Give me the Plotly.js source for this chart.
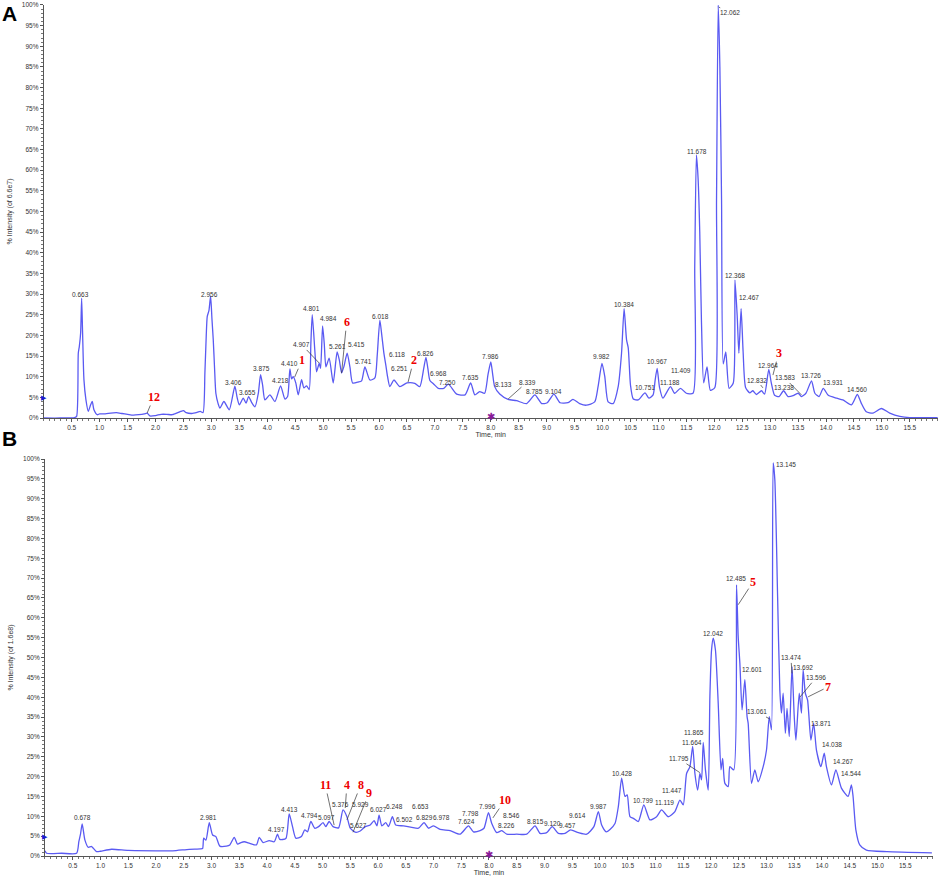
<!DOCTYPE html>
<html>
<head>
<meta charset="utf-8">
<script src="https://cdn.plot.ly/plotly-3.0.1.min.js"></script>
<style>html,body{margin:0;padding:0;background:#fff}#chart{width:941px;height:876px}</style>
</head>
<body>
<div id="chart"></div>
<script>
// ---------- Panel A data (time, min / % intensity of 6.6e7) ----------
const timeA = [
0,0.3,0.55,0.588,0.618,0.636,0.66,0.678,0.695,0.719,
0.755,0.797,0.839,0.868,0.898,0.958,1.0,1.1,1.2,1.3,
1.4,1.5,1.6,1.7,1.8,1.85,1.9,2.0,2.1,2.2,
2.3,2.4,2.45,2.5,2.55,2.65,2.75,2.8,2.85,2.884,
2.908,2.926,2.956,2.986,3.01,3.033,3.057,3.08,3.12,3.153,
3.224,3.32,3.42,3.46,3.50,3.57,3.62,3.666,3.72,3.78,
3.84,3.88,3.916,3.958,4.047,4.137,4.238,4.316,4.364,4.405,
4.435,4.464,4.51,4.554,4.614,4.655,4.703,4.75,4.78,4.805,
4.853,4.883,4.93,4.954,4.99,5.02,5.05,5.108,5.18,5.25,
5.29,5.33,5.37,5.43,5.48,5.527,5.627,5.688,5.747,5.837,
5.926,5.967,6.015,6.05,6.087,6.123,6.153,6.194,6.266,6.373,
6.50,6.64,6.73,6.80,6.84,6.874,6.91,6.98,7.06,7.16,
7.24,7.39,7.54,7.64,7.715,7.80,7.89,7.95,8.0,8.03,
8.07,8.16,8.31,8.46,8.64,8.79,8.91,9.01,9.13,9.24,
9.38,9.47,9.59,9.71,9.86,9.92,9.99,10.04,10.1,10.19,
10.28,10.34,10.386,10.43,10.46,10.50,10.55,10.64,10.76,10.83,
10.905,10.94,10.977,11.02,11.08,11.216,11.29,11.395,11.50,11.62,
11.65,11.68,11.71,11.74,11.77,11.81,11.87,11.93,12.01,12.04,
12.07,12.10,12.13,12.16,12.206,12.265,12.34,12.37,12.41,12.44,
12.48,12.515,12.56,12.635,12.69,12.755,12.845,12.90,12.975,13.02,
13.08,13.16,13.24,13.32,13.41,13.50,13.56,13.64,13.74,13.80,
13.875,13.95,14.04,14.19,14.30,14.455,14.56,14.63,14.72,14.84,
14.99,15.14,15.32,15.5,16.0
];
const intensityA = [
0,0,0.1,0.4,15.7,17.3,20.6,29,20.6,9.3,
4.4,1.6,3.2,4.0,2.0,0.8,1.0,1.0,1.2,1.3,
1.1,0.9,0.7,0.8,1.0,1.2,0.5,0.6,0.9,0.9,
0.8,1.3,1.6,1.8,1.3,1.1,1.4,1.6,1.3,11,
20,24.6,26,29.5,24,19,12,6,3.5,2.4,
4,2,7.7,5,3.2,4.8,3.6,5.2,3.8,2.7,
6,10.5,8,4.4,5.6,4.0,7.8,4.6,5.2,11.9,
9.5,10,8.5,5.6,9.3,7.3,7.8,6.9,18,25,
16,11.2,13.3,12,22.3,18,12.4,14.5,8.5,16,
14,10.9,12.4,15.7,12.3,8.5,8.7,9,12.4,9.2,
9.7,15,23.7,20,15.7,12.7,10,7.6,9.2,7.6,
8.5,8.4,7.6,12,14.7,12,9.1,8.2,7.2,7.2,
8.2,5.8,5.6,8.5,5.6,6.4,6.0,10.5,13.6,11,
7.6,5.8,4.5,4.2,3.5,5.6,3.5,3.7,5.8,3.7,
3.7,4.5,3.5,3.1,3.9,7.6,13.2,10.1,3.9,3.5,
7.6,15.7,26.5,18.9,17,8,4.6,4.4,6.1,4.8,
5.6,9,12,7.4,4.8,7.6,6,7.2,6,6,
36.6,63.7,58,45,23.6,8.5,12.4,6.7,7.4,52.8,
100,85,52.8,13.1,16,7.2,8.5,33.4,24.7,15.7,
26.5,16.3,7.4,6.1,6.6,5.7,6.6,5.8,11.8,8.5,
5.5,5.2,6.6,5.2,5.4,6.0,5.2,6.0,9.0,6.0,
5.2,7.2,5.5,4.8,4.4,3.2,5.7,3.6,1.5,1.2,
2.3,1.2,0.4,0.1,0.1
];

// ---------- Panel B data (time, min / % intensity of 1.6e8) ----------
const timeB = [
0,0.03,0.3,0.57,0.61,0.64,0.67,0.72,0.78,0.84,
0.93,1.0,1.2,1.5,2.0,2.3,2.6,2.8,2.84,2.86,
2.90,2.96,3.02,3.08,3.15,3.27,3.33,3.41,3.47,3.53,
3.59,3.69,3.81,3.86,3.93,4.04,4.13,4.19,4.23,4.34,
4.40,4.46,4.52,4.62,4.68,4.73,4.79,4.86,4.93,5.01,
5.06,5.12,5.19,5.29,5.37,5.44,5.50,5.59,5.68,5.77,
5.86,5.93,5.98,6.02,6.07,6.14,6.19,6.26,6.32,6.46,
6.61,6.73,6.83,6.91,7.00,7.12,7.30,7.48,7.63,7.72,
7.84,7.91,7.99,8.05,8.14,8.23,8.32,8.50,8.68,8.83,
8.92,9.04,9.14,9.25,9.37,9.47,9.61,9.76,9.89,9.97,
10.03,10.11,10.18,10.27,10.33,10.39,10.45,10.49,10.54,10.60,
10.69,10.79,10.90,11.02,11.11,11.23,11.35,11.44,11.50,11.56,
11.62,11.67,11.71,11.76,11.80,11.83,11.86,11.90,11.95,11.98,
12.01,12.04,12.08,12.13,12.18,12.21,12.25,12.31,12.34,12.41,
12.46,12.49,12.52,12.56,12.61,12.65,12.67,12.73,12.79,12.85,
12.94,13.00,13.05,13.09,13.12,13.15,13.20,13.24,13.27,13.30,
13.34,13.37,13.41,13.46,13.50,13.53,13.59,13.63,13.66,13.70,
13.74,13.80,13.85,13.90,13.98,14.04,14.08,14.17,14.25,14.35,
14.47,14.53,14.56,14.61,14.68,14.80,15.17,15.98
];
const intensityB = [
1.3,0.7,0.7,0.7,3.6,5.5,8.1,4,2.2,2.4,
1.1,1.2,1.7,1.4,1.3,1.3,1.7,1.8,1.9,4.5,
4.0,8.4,5.3,4.9,2.5,2.5,2.8,4.7,3.0,3.4,
3.6,3.2,2.8,4.7,3.4,3.9,3.6,5.5,4.2,4.4,
10.6,7.4,4.5,4.9,6.6,6.1,8.7,7.0,7.4,8.4,
7.4,8.7,7.4,7.1,11.6,9.9,7.0,6.0,6.3,7.4,
7.8,8.9,7.6,10.3,7.6,8.4,7.4,9.9,7.8,7.6,
7.2,7.0,8.4,7.0,7.6,6.7,6.4,5.5,7.6,6.1,
6.4,7.0,10.9,8.2,5.9,6.4,5.5,5.5,5.5,7.6,
5.7,5.9,7.4,5.7,5.7,6.6,5.9,5.5,7.4,11.2,
7.8,6.1,6.7,8.2,12.4,19.6,15,15.4,9.9,9.5,
8.7,12.9,9.1,9.9,11.6,9.9,11.2,14.1,12.9,20.8,
22.5,27.6,20.8,16.6,20.8,19.2,28.6,21.7,16.6,40.2,
51.9,54.9,51.9,38.5,21.7,24.6,18.3,17.5,22.5,21.7,
68.3,55.3,48.6,36.8,44.4,35.1,33.4,18.3,21.7,18.7,
22.5,26.7,35.1,31.8,99,94.8,65.4,41.8,36,41,
30.9,37.2,30.1,47.7,35.1,29.2,41,36,46.9,41,
39.3,29.2,33.4,26.7,22.5,25.9,22.5,17.9,21.7,17.1,
15,17.9,15,6.6,2.8,1.5,1.1,0.8
];

// ---------- Peak labels, panel A (text, label position, optional leader target) ----------
const labelTextA = ["0.663","2.956","3.406","3.655","3.875","4.218","4.410","4.801","4.907","4.984",
  "5.261","5.415","5.741","6.018","6.118","6.251","6.826","6.968","7.250","7.635",
  "7.986","8.133","8.339","8.785","9.104","9.982","10.384","10.751","10.967","11.188",
  "11.409","11.678","12.062","12.368","12.467","12.832","12.964","13.238","13.583","13.726",
  "13.931","14.560"];
const labelTA = [0.666,2.97,3.40,3.64,3.89,4.23,4.39,4.80,4.62,5.10,
  5.25,5.60,5.73,6.02,6.32,6.36,6.84,7.07,7.23,7.64,
  8.0,8.23,8.65,8.79,9.13,9.99,10.38,10.76,10.97,11.2,
  11.40,11.69,12.28,12.37,12.62,12.76,12.96,13.24,13.26,13.73,
  14.12,14.55];
const labelYA = [29.8,30.0,8.7,6.3,11.9,9.0,13.1,26.4,17.7,24.2,
  17.4,17.7,13.6,24.7,15.3,11.9,15.7,10.7,8.5,9.9,
  15.0,8.2,8.7,6.5,6.5,15.0,27.6,7.5,13.6,8.7,
  11.4,64.6,98.1,34.6,29.1,9.2,12.8,7.5,9.7,10.2,
  8.7,7.0];
const leadTA = [null,null,null,null,null,null,null,null,4.93,null,
  null,null,null,null,null,null,null,null,null,null,
  null,null,8.31,null,null,null,null,null,null,null,
  null,null,12.08,null,null,12.87,null,null,13.56,null,
  null,null];
const leadYA = [null,null,null,null,null,null,null,null,13.3,null,
  null,null,null,null,null,null,null,null,null,null,
  null,null,4.6,null,null,null,null,null,null,null,
  null,null,99.5,null,null,7.3,null,null,5.6,null,
  null,null];
// identified compounds (red numbers), panel A
const compTextA = ["12","1","6","2","3"];
const compTA = [1.97,4.62,5.42,6.62,13.15];
const compYA = [5.1,14.0,23.2,14.0,15.7];
const compLeadTA = [1.85,4.49,5.33,6.52,13.05];
const compLeadYA = [1.2,9.9,10.9,8.7,10.4];

// ---------- Peak labels, panel B ----------
const labelTextB = ["0.678","2.981","4.197","4.413","4.794","5.097","5.376","5.929","5.627","6.027",
  "6.248","6.502","6.653","6.829","6.978","7.798","7.624","7.996","8.226","8.546",
  "8.815","9.120","9.457","9.614","9.987","10.428","10.799","11.119","11.447","11.795",
  "11.664","11.865","12.042","12.485","12.601","13.061","13.145","13.474","13.692","13.596",
  "13.871","14.038","14.267","14.544"];
const labelTB = [0.67,2.95,4.18,4.40,4.76,5.08,5.32,5.68,5.64,6.01,
  6.30,6.47,6.76,6.83,7.15,7.66,7.60,7.98,8.31,8.41,
  8.83,9.14,9.41,9.60,9.98,10.40,10.77,11.17,11.30,11.42,
  11.66,11.69,12.04,12.45,12.74,12.83,13.35,13.44,13.66,13.89,
  13.98,14.18,14.38,14.52];
const labelYB = [9.6,9.8,6.8,11.8,10.1,9.8,12.9,12.9,7.6,11.8,
  12.6,9.1,12.4,9.6,9.6,10.8,8.6,12.4,7.6,10.3,
  8.8,8.3,7.6,10.3,12.4,20.9,14.1,13.6,16.6,24.5,
  28.7,31.0,56.0,69.8,46.9,36.3,98.6,49.9,47.6,44.9,
  33.5,28.2,23.7,20.7];
const leadTB = [null,null,null,null,null,null,null,null,null,null,
  null,null,null,null,null,null,null,null,null,null,
  null,null,null,null,null,null,null,null,null,11.80,
  null,null,null,null,null,13.06,null,13.46,null,13.60,
  null,null,null,null];
const leadYB = [null,null,null,null,null,null,null,null,null,null,
  null,null,null,null,null,null,null,null,null,null,
  null,null,null,null,null,null,null,null,null,21.0,
  null,null,null,null,null,34.5,null,46.0,null,40.0,
  null,null,null,null];
const compTextB = ["11","4","8","9","10","5","7"];
const compTB = [5.05,5.44,5.69,5.84,8.29,12.76,14.11];
const compYB = [17.9,17.9,17.9,15.9,14.1,69.1,42.6];
const compLeadTB = [5.21,5.41,5.44,5.55,8.07,12.49,13.75];
const compLeadYB = [7.8,12.1,9.1,6.0,9.6,63.3,40.1];

const yTitleA = "% Intensity (of 6.6e7)";
const yTitleB = "% Intensity (of 1.6e8)";

// ---------- Build ----------
const lineColor = "#5a5af2";
const small = {family: "Liberation Sans, Arial, sans-serif", size: 6.5, color: "#333"};
const traces = [
  {x: timeA, y: intensityA, xaxis: "x", yaxis: "y", type: "scatter", mode: "lines",
   line: {color: lineColor, width: 1.3, shape: "spline", smoothing: 0.6}, hoverinfo: "skip"},
  {x: timeB, y: intensityB, xaxis: "x2", yaxis: "y2", type: "scatter", mode: "lines",
   line: {color: lineColor, width: 1.3, shape: "spline", smoothing: 0.6}, hoverinfo: "skip"}
];

const annotations = [];
function addLabels(texts, ts, ys, lts, lys, xr, yr, font) {
  texts.forEach((t, i) => {
    if (lts && lts[i] != null) {
      annotations.push({text: t, x: lts[i], y: lys[i], ax: ts[i], ay: ys[i], xref: xr, yref: yr,
        axref: xr, ayref: yr, showarrow: true, arrowhead: 0, arrowwidth: 0.7, arrowcolor: "#333",
        standoff: 0, startstandoff: 0, font: font});
    } else {
      annotations.push({text: t, x: ts[i], y: ys[i], xref: xr, yref: yr, showarrow: false, font: font});
    }
  });
}
const redFont = {family: "Liberation Serif, Times New Roman, serif", size: 12, color: "#ee0000", weight: "bold"};
addLabels(labelTextA, labelTA, labelYA, leadTA, leadYA, "x", "y", small);
addLabels(compTextA, compTA, compYA, compLeadTA, compLeadYA, "x", "y", redFont);
addLabels(labelTextB, labelTB, labelYB, leadTB, leadYB, "x2", "y2", small);
addLabels(compTextB, compTB, compYB, compLeadTB, compLeadYB, "x2", "y2", redFont);

// panel letters, y titles, markers
annotations.push({text: "<b>A</b>", xref: "paper", yref: "paper", x: 0.0, y: 1.0, xanchor: "left", yanchor: "top",
  showarrow: false, font: {family: "Liberation Sans, Arial", size: 21, color: "#000"}});
annotations.push({text: "<b>B</b>", xref: "paper", yref: "paper", x: 0.0, y: 0.5, xanchor: "left", yanchor: "middle",
  showarrow: false, font: {family: "Liberation Sans, Arial", size: 21, color: "#000"}});
[["x","y"],["x2","y2"]].forEach(([xr, yr]) => {
  annotations.push({text: "▶", xref: xr + " domain", yref: yr, x: 0, y: 5, xanchor: "center",
    showarrow: false, font: {size: 7, color: "#1a1ad0"}});
  annotations.push({text: "✱", xref: xr, yref: yr + " domain", x: 8.0, y: -0.018,
    showarrow: false, font: {size: 10, color: "#8a1a9a"}});
});

const yAxisBase = {
  range: [0, 100], dtick: 5, ticksuffix: "%", showgrid: false, zeroline: false,
  showline: true, linecolor: "#555", linewidth: 1, ticks: "outside", ticklen: 3, tickcolor: "#555",
  tickfont: {family: "Liberation Sans, Arial", size: 6.5, color: "#333"},
  minor: {ticks: "outside", dtick: 1, ticklen: 1.5, tickcolor: "#777"},
  fixedrange: true
};
const xAxisBase = {
  range: [0, 16], tickmode: "array",
  tickvals: [0.5,1,1.5,2,2.5,3,3.5,4,4.5,5,5.5,6,6.5,7,7.5,8,8.5,9,9.5,10,10.5,11,11.5,12,12.5,13,13.5,14,14.5,15,15.5],
  tickformat: ".1f", showgrid: false, zeroline: false,
  showline: true, linecolor: "#555", linewidth: 1, ticks: "outside", ticklen: 3, tickcolor: "#555",
  tickfont: {family: "Liberation Sans, Arial", size: 6.5, color: "#333"},
  minor: {ticks: "outside", dtick: 0.1, ticklen: 1.5, tickcolor: "#777"},
  title: {text: "Time, min", font: {family: "Liberation Sans, Arial", size: 7, color: "#333"}, standoff: 2},
  fixedrange: true
};

const layout = {
  width: 941, height: 876,
  margin: {l: 0, r: 0, t: 0, b: 0},
  paper_bgcolor: "#fff", plot_bgcolor: "#fff",
  showlegend: false,
  xaxis: Object.assign({}, xAxisBase, {domain: [0.0465, 0.9966], anchor: "y"}),
  yaxis: Object.assign({}, yAxisBase, {domain: [0.5228, 0.9943], anchor: "x",
    title: {text: yTitleA, font: {family: "Liberation Sans, Arial", size: 7, color: "#333"}, standoff: 8}}),
  xaxis2: Object.assign({}, xAxisBase, {domain: [0.0478, 0.9915], anchor: "y2"}),
  yaxis2: Object.assign({}, yAxisBase, {domain: [0.0228, 0.4760], anchor: "x2",
    title: {text: yTitleB, font: {family: "Liberation Sans, Arial", size: 7, color: "#333"}, standoff: 8}}),
  annotations: annotations
};

Plotly.newPlot("chart", traces, layout, {displayModeBar: false, staticPlot: true});
</script>
</body>
</html>
